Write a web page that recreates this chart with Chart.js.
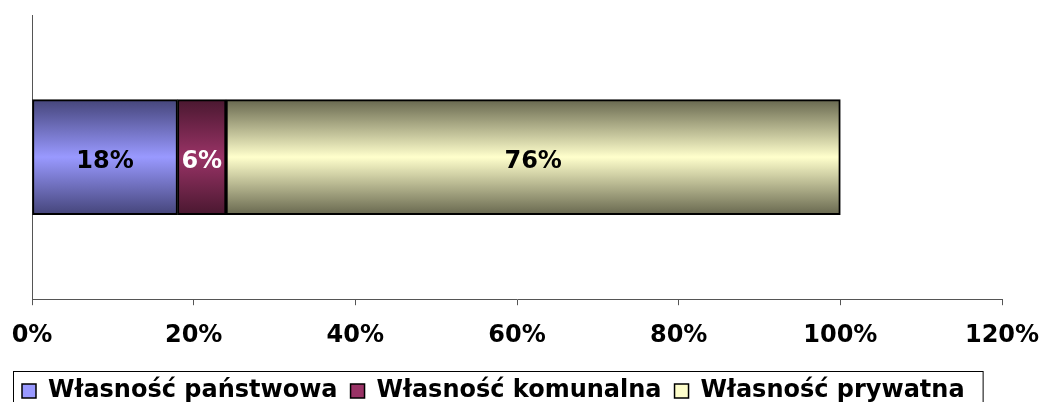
<!DOCTYPE html>
<html>
<head>
<meta charset="utf-8">
<script src="https://cdn.jsdelivr.net/npm/chart.js@4/dist/chart.umd.min.js"></script>
<style>
  html, body { margin: 0; padding: 0; background: #fff; }
  #wrap { width: 1044px; height: 402px; }
</style>
</head>
<body>
<div id="wrap"><canvas id="ownChart" width="1044" height="402"></canvas></div>
<script>
// Struktura własności - one stacked horizontal bar
const CATEGORIES = [''];
const SERIES_NAMES = ['Własność państwowa', 'Własność komunalna', 'Własność prywatna'];
const SERIES_VALUES = [[0.18], [0.06], [0.76]];
const LABEL_TEXT = ['18%', '6%', '76%'];
const X_TICKS = ['0%', '20%', '40%', '60%', '80%', '100%', '120%'];

// edge / centre colours of the vertical gradient, plus legend swatch and label colour
const EDGE = ['#45457a', '#4a1830', '#68684f'];
const MID = ['#9999ff', '#993366', '#ffffcc'];
const SWATCH = ['#9999ff', '#993366', '#ffffcc'];
const LABEL_COLOR = ['#000', '#fff', '#000'];

const FONT = 'DejaVu Sans, Verdana, sans-serif';
const FSIZE = 24;
const BAR_H = 115;

function gradient(i) {
    return function(ctx) {
        const area = ctx.chart.chartArea;
        if (!area || !isFinite(area.top) || !isFinite(area.bottom)) return MID[i];
        const mid = (area.top + area.bottom) / 2;
        const g = ctx.chart.ctx.createLinearGradient(0, mid - BAR_H / 2, 0, mid + BAR_H / 2);
        g.addColorStop(0, EDGE[i]);
        g.addColorStop(0.5, MID[i]);
        g.addColorStop(1, EDGE[i]);
        return g;
    };
}

// value labels in the middle of each segment
const barLabels = {
    id: 'barLabels',
    afterDatasetsDraw(chart) {
        const ctx = chart.ctx;
        ctx.save();
        ctx.font = 'bold ' + FSIZE + 'px ' + FONT;
        ctx.textAlign = 'center';
        ctx.textBaseline = 'middle';
        chart.data.datasets.forEach((ds, i) => {
            const el = chart.getDatasetMeta(i).data[0];
            ctx.fillStyle = LABEL_COLOR[i];
            ctx.fillText(LABEL_TEXT[i], (el.x + el.base) / 2, el.y + 5);
        });
        ctx.restore();
    }
};

// frame around the legend
const legendBox = {
    id: 'legendBox',
    afterDraw(chart) {
        const l = chart.legend;
        if (!l || !l.legendHitBoxes.length) return;
        const boxes = l.legendHitBoxes;
        const last = boxes[boxes.length - 1];
        const x0 = boxes[0].left - 9;
        const x1 = last.left + last.width + 18;
        const y0 = boxes[0].top - 8;
        const ctx = chart.ctx;
        ctx.save();
        ctx.strokeStyle = '#000';
        ctx.lineWidth = 1;
        ctx.strokeRect(Math.round(x0) + 0.5, Math.round(y0) + 0.5, x1 - x0, 60);
        ctx.restore();
    }
};

const datasets = SERIES_NAMES.map((name, i) => ({
    label: name,
    data: SERIES_VALUES[i],
    backgroundColor: gradient(i),
    borderColor: '#000',
    borderWidth: 2,
    borderSkipped: false,
    barThickness: BAR_H
}));

new Chart(document.getElementById('ownChart'), {
    type: 'bar',
    data: { labels: CATEGORIES, datasets },
    plugins: [barLabels, legendBox],
    options: {
        indexAxis: 'y',
        responsive: false,
        animation: false,
        layout: { padding: { top: 15, left: 9, right: 0, bottom: -11 } },
        plugins: {
            tooltip: { enabled: false },
            legend: {
                position: 'bottom',
                align: 'start',
                labels: {
                    color: '#000',
                    font: { family: FONT, size: FSIZE, weight: 'bold' },
                    boxWidth: 14,
                    boxHeight: 14,
                    padding: 13,
                    generateLabels: chart => chart.data.datasets.map((ds, i) => ({
                        text: ds.label,
                        fillStyle: SWATCH[i],
                        strokeStyle: '#000',
                        lineWidth: 1.5,
                        datasetIndex: i
                    }))
                }
            }
        },
        scales: {
            x: {
                stacked: true,
                min: 0,
                max: 1.2,
                afterFit: s => { s.paddingLeft = 32; s.paddingRight = 42; },
                ticks: {
                    stepSize: 0.2,
                    color: '#000',
                    padding: 16,
                    font: { family: FONT, size: FSIZE, weight: 'bold' },
                    callback: (v, idx) => X_TICKS[idx]
                },
                grid: { drawOnChartArea: false, drawTicks: true, tickLength: 6, color: '#555' },
                border: { color: '#555', width: 1 }
            },
            y: {
                stacked: true,
                ticks: { display: false },
                grid: { display: false },
                border: { color: '#555', width: 1 }
            }
        }
    }
});
</script>
</body>
</html>
